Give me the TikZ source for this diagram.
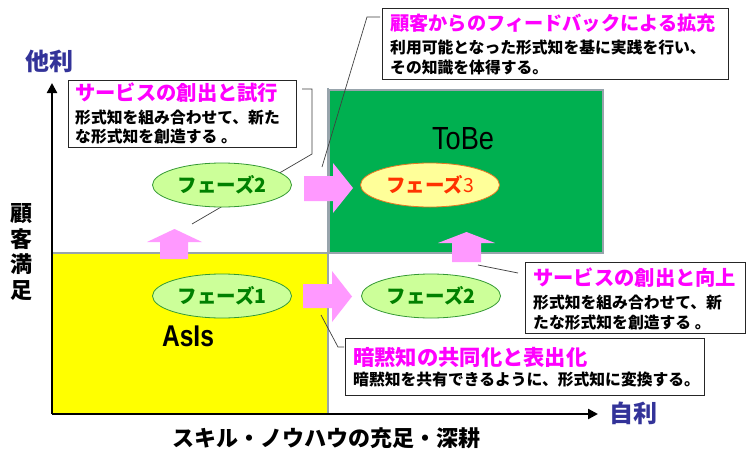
\documentclass[tikz,border=0pt]{standalone}
\usepackage{fontspec}
\newfontfamily\jp{Noto Sans CJK JP}
\newfontfamily\lat{Liberation Sans}
\usetikzlibrary{shapes.geometric,arrows.meta}
\definecolor{tobegreen}{HTML}{00B050}
\definecolor{asisyellow}{HTML}{FFFF00}
\definecolor{arrowpink}{HTML}{FF99FF}
\definecolor{phasefill}{HTML}{CCFF99}
\definecolor{phaseline}{HTML}{339933}
\definecolor{phasetext}{HTML}{008000}
\definecolor{p3fill}{HTML}{FFFF99}
\definecolor{p3line}{HTML}{E87722}
\definecolor{p3text}{HTML}{FF3300}
\definecolor{axislabel}{HTML}{333399}
\definecolor{titlemag}{HTML}{FF00FF}
\definecolor{quadline}{HTML}{98A4AC}
\tikzset{
  axisline/.style={line width=2.3pt, -{Triangle[width=10pt,length=10pt]}},
  quad/.style={draw=quadline, line width=1.3pt},
  pinkarrow/.style={fill=arrowpink},
  phase/.style={ellipse, draw=phaseline, fill=phasefill, line width=0.8pt,
    minimum width=139, minimum height=44, inner sep=0pt,
    text=phasetext, font=\jp\bfseries\fontsize{19.5}{22}\selectfont},
  phasethree/.style={phase, draw=p3line, fill=p3fill, text=p3text},
  cbox/.style={draw=black!85, fill=white, line width=1pt, inner sep=0pt},
  ttl/.style={anchor=west, inner sep=0pt, text=titlemag},
  body/.style={anchor=west, inner sep=0pt, font=\jp\bfseries\fontsize{15.8}{19}\selectfont},
  callout/.style={draw=black!75, line width=0.7pt},
  axlab/.style={text=axislabel, font=\jp\bfseries\fontsize{24}{28}\selectfont, inner sep=0pt},
}
\begin{document}
\begin{tikzpicture}[x=1pt,y=-1pt]
\useasboundingbox[fill=white] (0,0) rectangle (750,450);

% quadrants
\fill[asisyellow] (52,253) rectangle (328,414);
\draw[quad, fill=tobegreen] (329,90) rectangle (603,253);
\draw[quad] (328,88) -- (328,414);
\draw[quad] (52,253) -- (603,253);

% axes
\coordinate (origin) at (52,414);
\coordinate (ytip) at (52,83);
\coordinate (xtip) at (598,414);
\draw[axisline] (origin) -- (ytip);
\draw[axisline] (origin) -- (xtip);

% callout anchor coordinates
\coordinate (c1a) at (302,89);
\coordinate (c1b) at (312,89);
\coordinate (c1c) at (312,154);
\coordinate (c1d) at (192,224);
\coordinate (c2a) at (380,17);
\coordinate (c2b) at (367,17);
\coordinate (c2c) at (322,167);
\coordinate (c3a) at (478,265);
\coordinate (c3b) at (518,273);
\coordinate (c4a) at (321,315);
\coordinate (c4b) at (338,347);
\coordinate (c4c) at (344,347);
\draw[callout] (c1a) -- (c1b) -- (c1c) -- (c1d);
\draw[callout] (c2a) -- (c2b) -- (c2c);
\draw[callout] (c3a) -- (c3b);
\draw[callout] (c4a) -- (c4b) -- (c4c);

% pink arrows
\fill[pinkarrow] (304,176) -- (333,176) -- (333,163) -- (353,188) -- (333,213) -- (333,201) -- (304,201) -- cycle;
\fill[pinkarrow] (303,284) -- (332,284) -- (332,271) -- (352,296.5) -- (332,322) -- (332,308) -- (303,308) -- cycle;
\fill[pinkarrow] (160,259) -- (160,242) -- (147,242) -- (174.5,229) -- (202,242) -- (188,242) -- (188,259) -- cycle;
\fill[pinkarrow] (452,262) -- (452,243) -- (438,243) -- (466.5,232) -- (495,243) -- (481,243) -- (481,262) -- cycle;

% phases
\node[phase] (p2a) at (222,185) {フェーズ2};
\node[phase] (p1) at (222,296) {フェーズ1};
\node[phase] (p2b) at (431,296) {フェーズ2};
\node[phasethree] (p3) at (430,185) {フェーズ{\mdseries 3}};

% state labels
\node[font=\lat\fontsize{32}{36}\selectfont, xscale=0.85, inner sep=0pt] (tobe) at (463,139) {ToBe};
\node[font=\lat\bfseries\fontsize{30}{34}\selectfont, xscale=0.82, inner sep=0pt] (asis) at (188,336) {AsIs};

% callout boxes
\node[cbox, minimum width=228, minimum height=67] (b1) at (182,113.5) {};
\node[ttl, font=\jp\bfseries\fontsize{20.3}{24}\selectfont] (b1t) at (75,93) {サービスの創出と試行};
\node[body] (b1l1) at (75,118) {形式知を組み合わせて、新た};
\node[body] (b1l2) at (75,137) {な形式知を創造する 。};

\node[cbox, minimum width=346, minimum height=71] (b2) at (555,43.5) {};
\node[ttl, font=\jp\bfseries\fontsize{19.2}{23}\selectfont] (b2t) at (390,23) {顧客からのフィードバックによる拡充};
\node[body] (b2l1) at (390,48) {利用可能となった形式知を基に実践を行い、};
\node[body] (b2l2) at (390,68) {その知識を体得する。};

\node[cbox, minimum width=220, minimum height=71] (b3) at (635,297.5) {};
\node[ttl, font=\jp\bfseries\fontsize{20.3}{24}\selectfont] (b3t) at (533,278) {サービスの創出と向上};
\node[body] (b3l1) at (533,303) {形式知を組み合わせて、新};
\node[body] (b3l2) at (533,323) {たな形式知を創造する 。};

\node[cbox, minimum width=359, minimum height=57] (b4) at (524.5,366.5) {};
\node[ttl, font=\jp\bfseries\fontsize{21.3}{25}\selectfont] (b4t) at (353,357) {暗黙知の共同化と表出化};
\node[body] (b4l1) at (353,380) {暗黙知を共有できるように、形式知に変換する。};

% axis labels
\node[axlab] (tari) at (49,61) {他利};
\node[axlab] (jiri) at (633,413) {自利};
\node[font=\jp\bfseries\fontsize{22}{25.5}\selectfont, align=center, inner sep=0pt] (cs) at (21,252) {顧\\客\\満\\足};
\node[font=\jp\bfseries\fontsize{22}{26}\selectfont, inner sep=0pt] (skill) at (326,438) {スキル・ノウハウの充足・深耕};
\end{tikzpicture}
\end{document}
